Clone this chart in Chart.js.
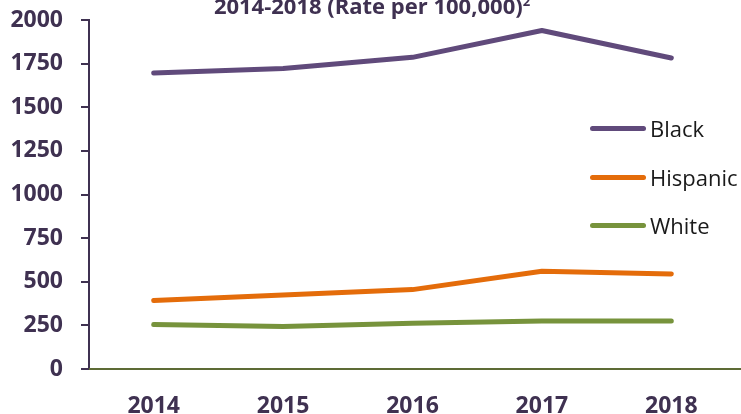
<!DOCTYPE html>
<html>
<head>
<meta charset="utf-8">
<script src="https://cdn.jsdelivr.net/npm/chart.js@4.4.1/dist/chart.umd.min.js"></script>
<style>
  html, body { margin: 0; padding: 0; background: #ffffff; overflow: hidden; }
  #wrap { position: relative; width: 741px; height: 414px; overflow: hidden; }
  #c { position: absolute; left: 0; top: 0; }
  #title { position: absolute; left: 0; width: 744px; top: -6px; text-align: center;
           font-family: "Open Sans", sans-serif; font-weight: bold; font-size: 22px; line-height: 22px;
           color: #3f3151; white-space: nowrap; }
  #title sup { font-size: 13px; vertical-align: 8px; line-height: 0; }
  .lg { position: absolute; left: 590px; height: 30px; display: flex; align-items: center;
        font-family: "Open Sans", sans-serif; font-size: 22px; color: #1a1a1a; white-space: nowrap; }
  .lg .sw { width: 56px; height: 5px; border-radius: 3px; margin-right: 4px; }
</style>
</head>
<body>
<div id="wrap">
  <canvas id="c" width="741" height="414"></canvas>
  <div id="title"></div>
</div>
<script>
const titleText = "2014-2018 (Rate per 100,000)";
const titleNote = "2";
const categories = ["2014", "2015", "2016", "2017", "2018"];
const seriesNames = ["Black", "Hispanic", "White"];
const seriesColors = ["#604a7b", "#e46c0a", "#77933c"];
const blackValues = [1696, 1722, 1786, 1940, 1782];
const hispanicValues = [392, 424, 455, 560, 545];
const whiteValues = [255, 243, 262, 275, 275];
const yTicks = [0, 250, 500, 750, 1000, 1250, 1500, 1750, 2000];

const seriesValues = [blackValues, hispanicValues, whiteValues];
const textColor = "#3f3151";

document.getElementById("title").innerHTML = titleText + "<sup>" + titleNote + "</sup>";

const wrap = document.getElementById("wrap");
const legendTops = [113, 162, 210];
seriesNames.forEach((name, i) => {
  const row = document.createElement("div");
  row.className = "lg";
  row.style.top = legendTops[i] + "px";
  const sw = document.createElement("span");
  sw.className = "sw";
  sw.style.background = seriesColors[i];
  const tx = document.createElement("span");
  tx.textContent = name;
  row.appendChild(sw);
  row.appendChild(tx);
  wrap.appendChild(row);
});

const xAxisLine = {
  id: "xAxisLine",
  afterDatasetsDraw(chart) {
    const ctx = chart.ctx;
    const y = chart.scales.y.getPixelForValue(0);
    ctx.save();
    ctx.strokeStyle = "#5d6b35";
    ctx.lineWidth = 2;
    ctx.beginPath();
    ctx.moveTo(chart.chartArea.left, y);
    ctx.lineTo(chart.width, y);
    ctx.stroke();
    ctx.restore();
  }
};

new Chart(document.getElementById("c"), {
  type: "line",
  data: {
    labels: categories,
    datasets: seriesNames.map((name, i) => ({
      label: name,
      data: seriesValues[i],
      borderColor: seriesColors[i],
      backgroundColor: seriesColors[i],
      borderWidth: 5,
      borderCapStyle: "round",
      borderJoinStyle: "round",
      pointRadius: 0,
      pointHoverRadius: 0,
      tension: 0,
      fill: false
    }))
  },
  options: {
    responsive: false,
    animation: false,
    devicePixelRatio: 1,
    layout: { padding: { top: 20, right: 5, left: 0, bottom: 0 } },
    plugins: {
      legend: { display: false },
      title: { display: false },
      tooltip: { enabled: false }
    },
    scales: {
      x: {
        offset: true,
        grid: { display: false, drawTicks: false },
        border: { display: false },
        ticks: {
          color: textColor,
          font: { family: "Open Sans", weight: "bold", size: 23 },
          padding: 24,
          maxRotation: 0
        },
        afterFit(scale) { scale.height = 45; scale.paddingLeft = 0; scale.paddingRight = 0; }
      },
      y: {
        min: 0,
        max: 2000,
        afterBuildTicks(scale) { scale.ticks = yTicks.map(v => ({ value: v })); },
        grid: { drawOnChartArea: false, drawTicks: true, tickLength: 8, color: textColor, lineWidth: 2 },
        border: { display: true, color: textColor, width: 2 },
        ticks: {
          color: textColor,
          font: { family: "Open Sans", weight: "bold", size: 23 },
          padding: 18,
          callback: (v) => String(v)
        },
        afterFit(scale) { scale.width = 89; scale.paddingTop = 0; scale.paddingBottom = 0; }
      }
    }
  },
  plugins: [xAxisLine]
});
</script>
</body>
</html>
